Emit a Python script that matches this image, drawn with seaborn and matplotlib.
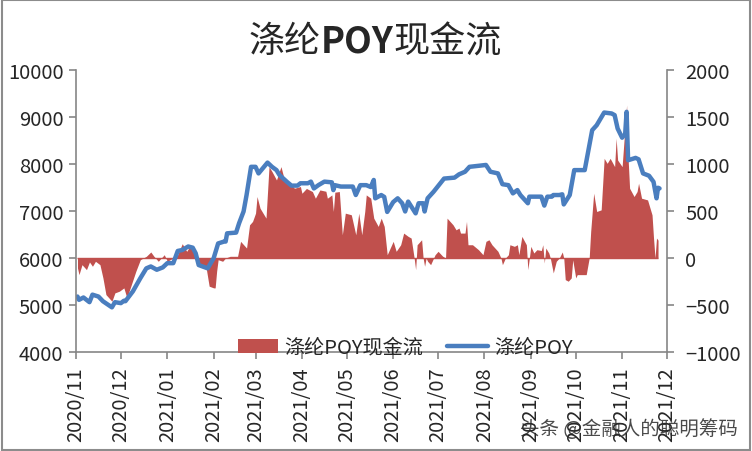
import matplotlib
matplotlib.use("Agg")
import matplotlib.pyplot as plt
import matplotlib.dates as mdates
from matplotlib.patches import Rectangle, Patch
from matplotlib.lines import Line2D
import seaborn as sns
import pandas as pd

# ---------------- data ----------------
price_dates = [
    "2020-11-02", "2020-11-03", "2020-11-06", "2020-11-10", "2020-11-12", "2020-11-16", "2020-11-19",
    "2020-11-25", "2020-11-27", "2020-12-01", "2020-12-03", "2020-12-04", "2020-12-09", "2020-12-14",
    "2020-12-18", "2020-12-21", "2020-12-25", "2020-12-29", "2021-01-01", "2021-01-05", "2021-01-08",
    "2021-01-11", "2021-01-15", "2021-01-18", "2021-01-20", "2021-01-22", "2021-01-28", "2021-02-01",
    "2021-02-04", "2021-02-08", "2021-02-09", "2021-02-10", "2021-02-16", "2021-02-18", "2021-02-21",
    "2021-02-23", "2021-02-26", "2021-03-01", "2021-03-03", "2021-03-09", "2021-03-12", "2021-03-15",
    "2021-03-17", "2021-03-22", "2021-03-25", "2021-03-29", "2021-03-31", "2021-04-05", "2021-04-07",
    "2021-04-09", "2021-04-12", "2021-04-16", "2021-04-21", "2021-04-22", "2021-04-23", "2021-04-27",
    "2021-05-05", "2021-05-07", "2021-05-10", "2021-05-14", "2021-05-17", "2021-05-19", "2021-05-20",
    "2021-05-24", "2021-05-26", "2021-05-28", "2021-06-01", "2021-06-04", "2021-06-07", "2021-06-09",
    "2021-06-11", "2021-06-16", "2021-06-18", "2021-06-21", "2021-06-22", "2021-06-24", "2021-06-28",
    "2021-07-05", "2021-07-12", "2021-07-15", "2021-07-19", "2021-07-22", "2021-07-29", "2021-08-02",
    "2021-08-05", "2021-08-10", "2021-08-13", "2021-08-17", "2021-08-20", "2021-08-23", "2021-08-25",
    "2021-08-30", "2021-08-31", "2021-09-08", "2021-09-10", "2021-09-12", "2021-09-15", "2021-09-16",
    "2021-09-20", "2021-09-22", "2021-09-23", "2021-09-27", "2021-09-30", "2021-10-07", "2021-10-12",
    "2021-10-15", "2021-10-20", "2021-10-25", "2021-10-27", "2021-10-29", "2021-11-01", "2021-11-02",
    "2021-11-03", "2021-11-04", "2021-11-05", "2021-11-10", "2021-11-12", "2021-11-15", "2021-11-19",
    "2021-11-22", "2021-11-24", "2021-11-25", "2021-11-26",
]
price = [
    5180, 5110, 5160, 5060, 5220, 5180, 5080,
    4950, 5060, 5040, 5090, 5080, 5290, 5570,
    5780, 5820, 5750, 5800, 5890, 5890, 6150,
    6170, 6245, 6220, 6100, 5850, 5780, 5995,
    6310, 6350, 6350, 6525, 6540, 6740, 6990,
    7340, 7940, 7940, 7800, 8030, 7940, 7870,
    7765, 7620, 7540, 7540, 7590, 7590, 7625,
    7480, 7550, 7625, 7610, 7445, 7550, 7520,
    7520, 7340, 7550, 7550, 7510, 7660, 7270,
    7340, 7300, 6980, 7190, 7270, 7165, 6990,
    7200, 6950, 7165, 7165, 6990, 7270, 7410,
    7690, 7710, 7780, 7835, 7940, 7965, 7980,
    7835, 7800, 7570, 7550, 7375, 7445, 7340,
    7165, 7305, 7305, 7115, 7305, 7305, 7340,
    7340, 7355, 7140, 7340, 7870, 7870, 8720,
    8825, 9095, 9075, 9040, 8755, 8560, 8600,
    8620, 9110, 8080, 8130, 8100, 7800, 7750,
    7620, 7270, 7495, 7480,
]

flow_dates = [
    "2020-11-02", "2020-11-03", "2020-11-05", "2020-11-08", "2020-11-10", "2020-11-12", "2020-11-14",
    "2020-11-17", "2020-11-19", "2020-11-21", "2020-11-25", "2020-11-27", "2020-11-30", "2020-12-03",
    "2020-12-05", "2020-12-08", "2020-12-11", "2020-12-14", "2020-12-16", "2020-12-18", "2020-12-21",
    "2020-12-23", "2020-12-26", "2020-12-30", "2021-01-01", "2021-01-05", "2021-01-08", "2021-01-11",
    "2021-01-14", "2021-01-16", "2021-01-19", "2021-01-21", "2021-01-25", "2021-01-27", "2021-01-29",
    "2021-02-01", "2021-02-02", "2021-02-03", "2021-02-04", "2021-02-07", "2021-02-09", "2021-02-12",
    "2021-02-17", "2021-02-19", "2021-02-23", "2021-02-25", "2021-02-27", "2021-03-01", "2021-03-02",
    "2021-03-04", "2021-03-08", "2021-03-10", "2021-03-12", "2021-03-15", "2021-03-18", "2021-03-20",
    "2021-03-24", "2021-03-27", "2021-03-31", "2021-04-01", "2021-04-04", "2021-04-08", "2021-04-10",
    "2021-04-13", "2021-04-17", "2021-04-18", "2021-04-21", "2021-04-22", "2021-04-23", "2021-04-26",
    "2021-04-28", "2021-04-30", "2021-05-04", "2021-05-07", "2021-05-09", "2021-05-11", "2021-05-13",
    "2021-05-14", "2021-05-17", "2021-05-19", "2021-05-22", "2021-05-24", "2021-05-26", "2021-05-28",
    "2021-06-01", "2021-06-03", "2021-06-06", "2021-06-08", "2021-06-11", "2021-06-13", "2021-06-15",
    "2021-06-16", "2021-06-17", "2021-06-20", "2021-06-21", "2021-06-22", "2021-06-23", "2021-06-24",
    "2021-06-26", "2021-06-29", "2021-07-01", "2021-07-04", "2021-07-06", "2021-07-07", "2021-07-11",
    "2021-07-13", "2021-07-15", "2021-07-16", "2021-07-19", "2021-07-20", "2021-07-21", "2021-07-24",
    "2021-07-28", "2021-07-31", "2021-08-02", "2021-08-04", "2021-08-06", "2021-08-10", "2021-08-12",
    "2021-08-13", "2021-08-15", "2021-08-17", "2021-08-18", "2021-08-21", "2021-08-23", "2021-08-24",
    "2021-08-26", "2021-08-29", "2021-08-30", "2021-09-01", "2021-09-03", "2021-09-05", "2021-09-08",
    "2021-09-09", "2021-09-10", "2021-09-11", "2021-09-13", "2021-09-14", "2021-09-16", "2021-09-18",
    "2021-09-20", "2021-09-22", "2021-09-23", "2021-09-24", "2021-09-26", "2021-09-28", "2021-09-29",
    "2021-10-01", "2021-10-02", "2021-10-08", "2021-10-10", "2021-10-11", "2021-10-13", "2021-10-15",
    "2021-10-18", "2021-10-20", "2021-10-22", "2021-10-24", "2021-10-27", "2021-10-28", "2021-10-29",
    "2021-11-01", "2021-11-04", "2021-11-05", "2021-11-06", "2021-11-09", "2021-11-11", "2021-11-12",
    "2021-11-14", "2021-11-18", "2021-11-21", "2021-11-22", "2021-11-23", "2021-11-24", "2021-11-25",
]
flow = [
    -106, -177, -71, -124, -42, -88, -35,
    -71, -212, -389, -460, -371, -353, -318,
    -424, -283, -141, -18, 0, 18, 64,
    20, -35, 35, -35, 0, 35, 152,
    71, 124, 71, -71, -88, -106, -300,
    -318, -318, -141, -18, -35, 0, 18,
    18, 177, 106, 353, 389, 477, 654,
    530, 424, 972, 919, 830, 972, 848,
    795, 742, 760, 689, 740, 707, 636,
    724, 710, 636, 671, 495, 700, 707,
    247, 477, 460, 247, 477, 247, 495,
    671, 636, 424, 336, 424, 336, 35,
    177, 71, 141, 265, 230, 212, 0,
    -124, 141, 194, 0, -88, 0, -35,
    -71, 35, 71, 20, 0, 424, 353,
    300, 318, 265, 265, 389, 141, 141,
    88, 35, 177, 194, 141, 71, 0,
    -71, 0, 35, 141, 124, 141, 35,
    230, 141, -124, 124, 53, 88, 80,
    141, -53, 106, 53, 0, -159, -35,
    0, 64, 0, -230, -247, -212, -20,
    -212, -177, -177, 0, 283, 689, 495,
    512, 1060, 1007, 1060, 972, 1273, 1042,
    972, 1626, 1060, 742, 654, 707, 795,
    636, 618, 459, 212, 0, 212, 190,
]

title_parts = ["涤纶", "POY", "现金流"]
flow_label = "涤纶POY现金流"
price_label = "涤纶POY"
watermark = "头条 @金融人的聪明筹码"
left_ticks = [4000, 5000, 6000, 7000, 8000, 9000, 10000]
right_ticks = [-1000, -500, 0, 500, 1000, 1500, 2000]

# ---------------- style ----------------
sns.set_style("white")
plt.rcParams["font.family"] = ["Noto Sans CJK SC", "DejaVu Sans"]

RED = "#C0504D"
BLUE = "#4A7EBF"
GREY = "#868686"

df_price = pd.DataFrame({"date": pd.to_datetime(price_dates), "price": price})
df_flow = pd.DataFrame({"date": pd.to_datetime(flow_dates), "flow": flow})

fig = plt.figure(figsize=(7.52, 4.52), dpi=100)
ax = fig.add_axes([76 / 752, 1 - 353 / 452, 591 / 752, 282 / 452])
ax2 = ax.twinx()

# area (secondary axis)
ax2.fill_between(df_flow["date"], df_flow["flow"], 0, color=RED, linewidth=0)
ax2.hlines(0, df_flow["date"].min(), df_flow["date"].max(), color=RED, linewidth=1)

# line (primary axis, drawn on top)
sns.lineplot(data=df_price, x="date", y="price", ax=ax, color=BLUE, linewidth=3.2)
ax.set_zorder(ax2.get_zorder() + 1)
ax.patch.set_visible(False)

ax.set_ylim(4000, 10000)
ax2.set_ylim(-1000, 2000)
ax.set_yticks(left_ticks)
ax2.set_yticks(right_ticks)
ax.set_xlim(pd.Timestamp("2020-11-01"), pd.Timestamp("2021-12-01"))
ax.xaxis.set_major_locator(mdates.MonthLocator())
ax.xaxis.set_major_formatter(mdates.DateFormatter("%Y/%m"))
ax.set_xlabel("")
ax.set_ylabel("")
ax2.set_ylabel("")

for s in ["top", "right"]:
    ax.spines[s].set_visible(False)
for s in ["top", "left", "bottom"]:
    ax2.spines[s].set_visible(False)
for s in ["left", "bottom"]:
    ax.spines[s].set_color(GREY)
    ax.spines[s].set_linewidth(1.2)
ax2.spines["right"].set_color(GREY)
ax2.spines["right"].set_linewidth(1.2)

ax.tick_params(axis="y", left=True, direction="out", length=5, width=1.2, color=GREY,
               labelsize=14.5, pad=4)
ax.tick_params(axis="x", bottom=True, direction="out", length=5, width=1.2, color=GREY,
               labelsize=14.5, pad=5, labelrotation=90)
ax2.tick_params(axis="y", right=True, direction="out", length=5, width=1.2, color=GREY,
                labelsize=14.5, pad=8)

handles = [Patch(facecolor=RED, edgecolor="none", label=flow_label),
           Line2D([], [], color=BLUE, linewidth=3.2, label=price_label)]
ax.legend(handles=handles, loc="lower center", bbox_to_anchor=(0.557, -0.02), ncol=2,
          frameon=False, fontsize=14.5, handlelength=2.0, handleheight=0.7,
          columnspacing=1.2, handletextpad=0.3, borderpad=0, borderaxespad=0)

# title: CJK regular-ish, "POY" bold, centered as a whole
renderer = fig.canvas.get_renderer()
weights = ["medium", "bold", "medium"]
texts = [fig.text(0, 1 - 42 / 452, p, ha="left", va="center", fontsize=26, fontweight=w)
         for p, w in zip(title_parts, weights)]
widths = [t.get_window_extent(renderer).width for t in texts]
total = sum(widths)
x = 375 - total / 2
for t, w in zip(texts, widths):
    t.set_x(x / 752)
    x += w

fig.text(738 / 752, 1 - 430 / 452, watermark, ha="right", va="center", fontsize=14,
         color="#2a2a2a", alpha=0.85)

fig.patches.append(Rectangle((0.002, 0.003), 0.996, 0.994, transform=fig.transFigure,
                             fill=False, edgecolor="#8c8c8c", linewidth=1.5))

fig.savefig("out.png", dpi=100)
